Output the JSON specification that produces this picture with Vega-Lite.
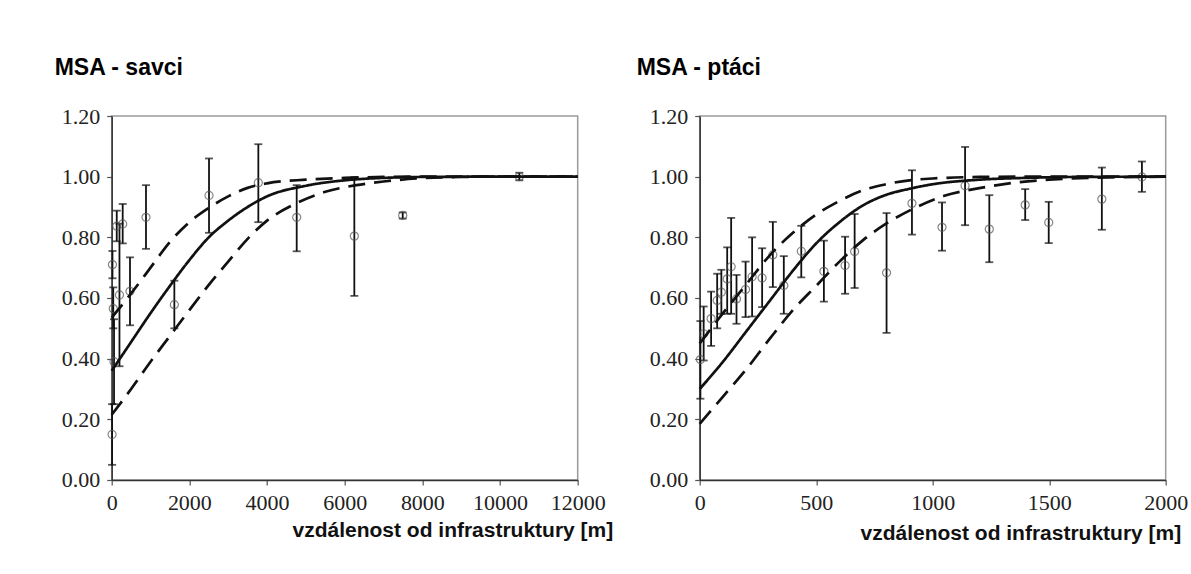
{
  "$schema": "https://vega.github.io/schema/vega-lite/v6.json",
  "background": "white",
  "padding": {"left": 53.7, "top": 56, "right": 5, "bottom": 5},
  "bounds": "flush",
  "spacing": 122,
  "config": {
    "view": {"stroke": "#9a9a9a", "strokeWidth": 1.5},
    "axis": {
      "labelFont": "Liberation Serif", "labelFontSize": 22, "labelColor": "#222", "labelOverlap": false, "labelFlush": false,
      "domainColor": "#333", "domainWidth": 1.5, "tickColor": "#555", "tickSize": 5, "tickWidth": 1.2,
      "grid": false, "titleFont": "Liberation Sans", "titleFontSize": 21, "titleFontWeight": "bold", "titleColor": "#111"
    },
    "axisX": {"labelPadding": 8},
    "axisY": {"labelPadding": 7},
    "title": {"font": "Liberation Sans", "fontSize": 23, "fontWeight": "bold", "color": "#000", "anchor": "start", "frame": "group", "baseline": "alphabetic"}
  },
  "datasets": {
    "savci_pts": [
      {"x": 10, "y": 0.15, "lo": 0.05, "hi": 0.25},
      {"x": 20, "y": 0.71, "lo": 0.665, "hi": 0.755},
      {"x": 40, "y": 0.565, "lo": 0.5, "hi": 0.635},
      {"x": 60, "y": 0.39, "lo": 0.25, "hi": 0.53},
      {"x": 130, "y": 0.837, "lo": 0.787, "hi": 0.888},
      {"x": 200, "y": 0.61, "lo": 0.375, "hi": 0.845},
      {"x": 283, "y": 0.844, "lo": 0.78, "hi": 0.91},
      {"x": 471, "y": 0.622, "lo": 0.51, "hi": 0.734},
      {"x": 883, "y": 0.866, "lo": 0.762, "hi": 0.972},
      {"x": 1613, "y": 0.578, "lo": 0.5, "hi": 0.657},
      {"x": 2506, "y": 0.938, "lo": 0.815, "hi": 1.06},
      {"x": 3776, "y": 0.98, "lo": 0.85, "hi": 1.107},
      {"x": 4764, "y": 0.866, "lo": 0.754, "hi": 0.972},
      {"x": 6248, "y": 0.804, "lo": 0.607, "hi": 0.998},
      {"x": 7494, "y": 0.872, "lo": 0.862, "hi": 0.882},
      {"x": 10497, "y": 1.0, "lo": 0.988, "hi": 1.013}
    ],
    "savci_curves": [
      {"curve": "fit", "x": 0, "y": 0.36}, {"curve": "fit", "x": 500, "y": 0.455},
      {"curve": "fit", "x": 1000, "y": 0.55}, {"curve": "fit", "x": 1500, "y": 0.64}, {"curve": "fit", "x": 2000, "y": 0.725},
      {"curve": "fit", "x": 2500, "y": 0.8}, {"curve": "fit", "x": 3000, "y": 0.855}, {"curve": "fit", "x": 3500, "y": 0.9},
      {"curve": "fit", "x": 4000, "y": 0.935}, {"curve": "fit", "x": 5000, "y": 0.97}, {"curve": "fit", "x": 6000, "y": 0.988},
      {"curve": "fit", "x": 7000, "y": 0.996}, {"curve": "fit", "x": 8000, "y": 0.999}, {"curve": "fit", "x": 10000, "y": 1.0},
      {"curve": "fit", "x": 12000, "y": 1.0},
      {"curve": "upper", "x": 0, "y": 0.535}, {"curve": "upper", "x": 500, "y": 0.615}, {"curve": "upper", "x": 1000, "y": 0.7},
      {"curve": "upper", "x": 1500, "y": 0.785}, {"curve": "upper", "x": 2000, "y": 0.85}, {"curve": "upper", "x": 2500, "y": 0.897},
      {"curve": "upper", "x": 3000, "y": 0.935}, {"curve": "upper", "x": 3500, "y": 0.963}, {"curve": "upper", "x": 4000, "y": 0.978},
      {"curve": "upper", "x": 5000, "y": 0.99}, {"curve": "upper", "x": 6000, "y": 0.996}, {"curve": "upper", "x": 7000, "y": 0.999},
      {"curve": "upper", "x": 8000, "y": 1.0}, {"curve": "upper", "x": 12000, "y": 1.0},
      {"curve": "lower", "x": 0, "y": 0.215}, {"curve": "lower", "x": 500, "y": 0.3}, {"curve": "lower", "x": 1000, "y": 0.39},
      {"curve": "lower", "x": 1500, "y": 0.475}, {"curve": "lower", "x": 2000, "y": 0.56}, {"curve": "lower", "x": 2500, "y": 0.643},
      {"curve": "lower", "x": 3000, "y": 0.72}, {"curve": "lower", "x": 3500, "y": 0.795}, {"curve": "lower", "x": 4000, "y": 0.855},
      {"curve": "lower", "x": 4750, "y": 0.912}, {"curve": "lower", "x": 5500, "y": 0.95}, {"curve": "lower", "x": 6300, "y": 0.972},
      {"curve": "lower", "x": 7000, "y": 0.984}, {"curve": "lower", "x": 8000, "y": 0.995}, {"curve": "lower", "x": 9000, "y": 0.999},
      {"curve": "lower", "x": 10000, "y": 1.0}, {"curve": "lower", "x": 12000, "y": 1.0}
    ],
    "ptaci_pts": [
      {"x": 3, "y": 0.397, "lo": 0.268, "hi": 0.524},
      {"x": 17, "y": 0.482, "lo": 0.394, "hi": 0.572},
      {"x": 49, "y": 0.532, "lo": 0.442, "hi": 0.621},
      {"x": 75, "y": 0.592, "lo": 0.5, "hi": 0.68},
      {"x": 93, "y": 0.619, "lo": 0.548, "hi": 0.693},
      {"x": 118, "y": 0.663, "lo": 0.548, "hi": 0.767},
      {"x": 135, "y": 0.703, "lo": 0.548, "hi": 0.864},
      {"x": 158, "y": 0.597, "lo": 0.515, "hi": 0.676},
      {"x": 197, "y": 0.628, "lo": 0.537, "hi": 0.72},
      {"x": 225, "y": 0.67, "lo": 0.539, "hi": 0.8},
      {"x": 268, "y": 0.666, "lo": 0.57, "hi": 0.764},
      {"x": 314, "y": 0.742, "lo": 0.636, "hi": 0.851},
      {"x": 361, "y": 0.641, "lo": 0.548, "hi": 0.738},
      {"x": 436, "y": 0.754, "lo": 0.668, "hi": 0.838},
      {"x": 533, "y": 0.688, "lo": 0.588, "hi": 0.789},
      {"x": 624, "y": 0.707, "lo": 0.614, "hi": 0.802},
      {"x": 665, "y": 0.753, "lo": 0.633, "hi": 0.877},
      {"x": 802, "y": 0.683, "lo": 0.485, "hi": 0.88},
      {"x": 911, "y": 0.912, "lo": 0.809, "hi": 1.021},
      {"x": 1040, "y": 0.833, "lo": 0.756, "hi": 0.915},
      {"x": 1139, "y": 0.97, "lo": 0.84, "hi": 1.098},
      {"x": 1243, "y": 0.827, "lo": 0.718, "hi": 0.939},
      {"x": 1397, "y": 0.907, "lo": 0.857, "hi": 0.959},
      {"x": 1498, "y": 0.849, "lo": 0.781, "hi": 0.917},
      {"x": 1726, "y": 0.926, "lo": 0.825, "hi": 1.03},
      {"x": 1898, "y": 0.999, "lo": 0.95, "hi": 1.05}
    ],
    "ptaci_curves": [
      {"curve": "fit", "x": 0, "y": 0.3}, {"curve": "fit", "x": 100, "y": 0.39}, {"curve": "fit", "x": 200, "y": 0.49},
      {"curve": "fit", "x": 300, "y": 0.59}, {"curve": "fit", "x": 400, "y": 0.69}, {"curve": "fit", "x": 500, "y": 0.78},
      {"curve": "fit", "x": 600, "y": 0.85}, {"curve": "fit", "x": 700, "y": 0.905}, {"curve": "fit", "x": 800, "y": 0.94},
      {"curve": "fit", "x": 900, "y": 0.96}, {"curve": "fit", "x": 1000, "y": 0.975}, {"curve": "fit", "x": 1200, "y": 0.99},
      {"curve": "fit", "x": 1400, "y": 0.996}, {"curve": "fit", "x": 1600, "y": 0.999}, {"curve": "fit", "x": 2000, "y": 1.0},
      {"curve": "upper", "x": 0, "y": 0.45}, {"curve": "upper", "x": 100, "y": 0.55}, {"curve": "upper", "x": 200, "y": 0.645},
      {"curve": "upper", "x": 300, "y": 0.74}, {"curve": "upper", "x": 400, "y": 0.815}, {"curve": "upper", "x": 500, "y": 0.875},
      {"curve": "upper", "x": 600, "y": 0.92}, {"curve": "upper", "x": 700, "y": 0.955}, {"curve": "upper", "x": 800, "y": 0.975},
      {"curve": "upper", "x": 900, "y": 0.988}, {"curve": "upper", "x": 1000, "y": 0.994}, {"curve": "upper", "x": 1200, "y": 0.999},
      {"curve": "upper", "x": 1400, "y": 1.0}, {"curve": "upper", "x": 2000, "y": 1.0},
      {"curve": "lower", "x": 0, "y": 0.185}, {"curve": "lower", "x": 100, "y": 0.275}, {"curve": "lower", "x": 200, "y": 0.365},
      {"curve": "lower", "x": 300, "y": 0.465}, {"curve": "lower", "x": 400, "y": 0.56}, {"curve": "lower", "x": 500, "y": 0.64},
      {"curve": "lower", "x": 600, "y": 0.72}, {"curve": "lower", "x": 700, "y": 0.79}, {"curve": "lower", "x": 800, "y": 0.845},
      {"curve": "lower", "x": 900, "y": 0.888}, {"curve": "lower", "x": 1050, "y": 0.937}, {"curve": "lower", "x": 1200, "y": 0.962},
      {"curve": "lower", "x": 1350, "y": 0.98}, {"curve": "lower", "x": 1500, "y": 0.99}, {"curve": "lower", "x": 1700, "y": 0.997},
      {"curve": "lower", "x": 2000, "y": 1.0}
    ]
  },
  "hconcat": [
    {
      "width": 466, "height": 364,
      "title": {"text": "MSA - savci", "dx": -57, "offset": 25},
      "encoding": {
        "x": {"field": "x", "type": "quantitative",
              "scale": {"domain": [0, 12000], "nice": false},
              "axis": {"values": [0, 2000, 4000, 6000, 8000, 10000, 12000], "format": "d",
                       "title": "vzdálenost od infrastruktury [m]", "titleAlign": "right", "titleAnchor": "start",
                       "titleX": 501, "titleY": 57, "titleBaseline": "alphabetic"}},
        "y": {"field": "y", "type": "quantitative",
              "scale": {"domain": [0, 1.2], "nice": false},
              "axis": {"values": [0, 0.2, 0.4, 0.6, 0.8, 1.0, 1.2], "format": ".2f", "title": null}}
      },
      "layer": [
        {"data": {"name": "savci_pts"},
         "mark": {"type": "errorbar", "ticks": true, "color": "#111", "thickness": 1.8, "size": 8},
         "encoding": {"y": {"field": "lo", "type": "quantitative", "title": null}, "y2": {"field": "hi"}}},
        {"data": {"name": "savci_pts"},
         "mark": {"type": "point", "shape": "circle", "filled": false, "color": "#555", "strokeWidth": 1.2, "size": 65}},
        {"data": {"name": "savci_curves"},
         "mark": {"type": "line", "interpolate": "monotone", "color": "#111", "strokeWidth": 2.7},
         "encoding": {
           "detail": {"field": "curve"},
           "strokeDash": {"field": "curve", "type": "nominal",
                          "scale": {"domain": ["fit", "upper", "lower"], "range": [[1, 0], [17, 9], [17, 9]]},
                          "legend": null}}}
      ]
    },
    {
      "width": 466, "height": 364,
      "title": {"text": "MSA - ptáci", "dx": -63, "offset": 25},
      "encoding": {
        "x": {"field": "x", "type": "quantitative",
              "scale": {"domain": [0, 2000], "nice": false},
              "axis": {"values": [0, 500, 1000, 1500, 2000], "format": "d",
                       "title": "vzdálenost od infrastruktury [m]", "titleAlign": "right", "titleAnchor": "start",
                       "titleX": 481, "titleY": 60, "titleBaseline": "alphabetic"}},
        "y": {"field": "y", "type": "quantitative",
              "scale": {"domain": [0, 1.2], "nice": false},
              "axis": {"values": [0, 0.2, 0.4, 0.6, 0.8, 1.0, 1.2], "format": ".2f", "title": null}}
      },
      "layer": [
        {"data": {"name": "ptaci_pts"},
         "mark": {"type": "errorbar", "ticks": true, "color": "#111", "thickness": 1.8, "size": 8},
         "encoding": {"y": {"field": "lo", "type": "quantitative", "title": null}, "y2": {"field": "hi"}}},
        {"data": {"name": "ptaci_pts"},
         "mark": {"type": "point", "shape": "circle", "filled": false, "color": "#555", "strokeWidth": 1.2, "size": 65}},
        {"data": {"name": "ptaci_curves"},
         "mark": {"type": "line", "interpolate": "monotone", "color": "#111", "strokeWidth": 2.7},
         "encoding": {
           "detail": {"field": "curve"},
           "strokeDash": {"field": "curve", "type": "nominal",
                          "scale": {"domain": ["fit", "upper", "lower"], "range": [[1, 0], [17, 9], [17, 9]]},
                          "legend": null}}}
      ]
    }
  ]
}
